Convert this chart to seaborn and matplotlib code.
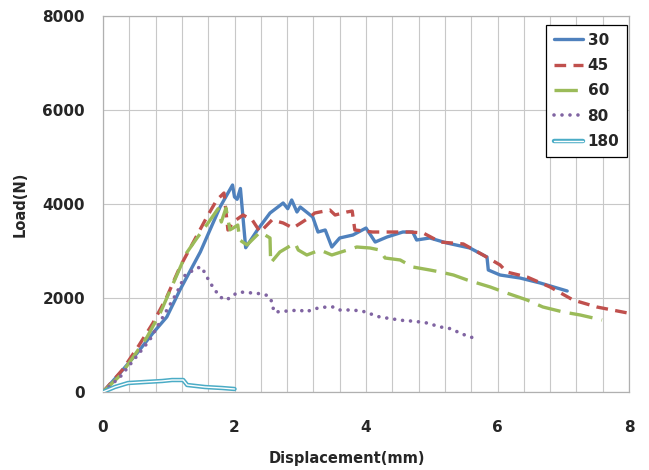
import numpy as np
import pandas as pd
import matplotlib
matplotlib.use("Agg")
import matplotlib.pyplot as plt
import matplotlib.patheffects as pe
from matplotlib.ticker import MultipleLocator
import seaborn as sns

# Load-displacement curves
x30 = [0, 0.26, 0.52, 0.76, 0.97, 1.17, 1.48, 1.78, 1.97, 2.0, 2.04, 2.09, 2.17, 2.35, 2.54,
       2.74, 2.81, 2.87, 2.95, 3.0, 3.19, 3.27, 3.38, 3.48, 3.6, 3.8, 4.0, 4.14, 4.32, 4.56,
       4.71, 4.77, 4.97, 5.23, 5.58, 5.84, 5.86, 6.04, 6.34, 6.65, 7.06]
y30 = [0, 404, 830, 1255, 1596, 2170, 2979, 3936, 4404, 4150, 4100, 4330, 3070, 3450, 3808,
       4021, 3900, 4085, 3830, 3936, 3723, 3404, 3447, 3085, 3277, 3340, 3489, 3191, 3298, 3404,
       3404, 3234, 3277, 3170, 3064, 2872, 2596, 2489, 2426, 2319, 2149]

x45 = [0, 0.3, 0.55, 0.76, 0.97, 1.17, 1.58, 1.73, 1.84, 1.9, 1.98, 2.13, 2.27, 2.39, 2.57,
       2.74, 2.89, 3.15, 3.22, 3.45, 3.53, 3.71, 3.79, 3.83, 4.1, 4.47, 4.67, 4.87, 5.13, 5.48,
       5.78, 6.04, 6.14, 6.45, 6.8, 7.15, 7.51, 7.98]
y45 = [0, 480, 1000, 1468, 2021, 2660, 3723, 4085, 4234, 3447, 3617, 3766, 3660, 3404, 3660,
       3596, 3489, 3723, 3808, 3872, 3766, 3830, 3850, 3447, 3404, 3404, 3404, 3383, 3191, 3150,
       2915, 2702, 2553, 2447, 2234, 1957, 1809, 1681]

x60 = [0, 0.26, 0.46, 0.67, 0.87, 1.27, 1.43, 1.6, 1.75, 1.8, 1.87, 1.93, 1.98, 2.05, 2.08,
       2.19, 2.39, 2.54, 2.55, 2.69, 2.92, 2.97, 3.1, 3.3, 3.48, 3.86, 4.06, 4.21, 4.29, 4.52,
       4.71, 4.97, 5.13, 5.33, 5.54, 5.89, 6.14, 6.45, 6.69, 7.0, 7.26, 7.59]
y60 = [0, 350, 745, 1170, 1681, 2957, 3277, 3600, 3900, 3617, 3915, 3450, 3489, 3553, 3234,
       3128, 3404, 3277, 2745, 2979, 3170, 3021, 2915, 3021, 2915, 3085, 3064, 3021, 2851, 2809,
       2660, 2596, 2553, 2489, 2383, 2234, 2106, 1957, 1809, 1702, 1638, 1532]

x80 = [0, 0.26, 0.71, 1.12, 1.25, 1.43, 1.5, 1.58, 1.67, 1.78, 1.88, 1.98, 2.08, 2.28, 2.43,
       2.52, 2.57, 2.6, 2.8, 3.0, 3.07, 3.27, 3.4, 3.5, 3.6, 3.8, 4.01, 4.11, 4.21, 4.41,
       4.62, 4.71, 4.93, 5.13, 5.25, 5.33, 5.43, 5.54, 5.64]
y80 = [0, 319, 1106, 2106, 2489, 2638, 2660, 2447, 2234, 2021, 1957, 2064, 2128, 2106, 2085,
       2043, 1915, 1700, 1723, 1745, 1700, 1787, 1809, 1809, 1745, 1745, 1702, 1638, 1596, 1553,
       1511, 1511, 1468, 1383, 1362, 1319, 1255, 1191, 1149]

x180 = [0, 0.18, 0.38, 0.64, 0.9, 1.05, 1.22, 1.28, 1.55, 1.81, 2.0]
y180 = [0, 106, 191, 213, 234, 255, 255, 149, 106, 85, 64]

labels = ["30", "45", "60", "80", "180"]
colors = ["#4F81BD", "#C0504D", "#9BBB59", "#8064A2", "#4BACC6"]

sns.set_style("white")
plt.rcParams["font.family"] = ["DejaVu Sans"]

fig = plt.figure(figsize=(6.49, 4.70), dpi=100)
ax = fig.add_axes([103 / 649, 1 - 392 / 470, 526 / 649, 376 / 470])

series = [(x30, y30), (x45, y45), (x60, y60), (x80, y80), (x180, y180)]
for (xs, ys), lab, col in zip(series, labels, colors):
    df = pd.DataFrame({"disp": xs, "load": ys})
    sns.lineplot(data=df, x="disp", y="load", sort=False, estimator=None,
                 color=col, label=lab, ax=ax, lw=2.4, zorder=3)

lines = ax.lines
lines[0].set_linestyle("-")
lines[1].set_dashes([3.5, 2.2])
lines[2].set_dashes([7, 2.8])
lines[3].set_linestyle((0, (0.01, 2.2)))
lines[3].set_dash_capstyle("round")
lines[3].set_linewidth(2.6)
lines[4].set_color("white")
lines[4].set_linewidth(1.0)
lines[4].set_path_effects([pe.Stroke(linewidth=3.2, foreground=colors[4]), pe.Normal()])

ax.set_xlim(0, 8)
ax.set_ylim(0, 8000)
ax.set_xticks([0, 2, 4, 6, 8])
ax.set_yticks([0, 2000, 4000, 6000, 8000])
ax.xaxis.set_minor_locator(MultipleLocator(0.4))
ax.grid(True, which="both", axis="x", color="#c8c8c8", lw=0.8)
ax.grid(True, which="major", axis="y", color="#c8c8c8", lw=0.8)
ax.set_axisbelow(True)
for s in ax.spines.values():
    s.set_color("#b0b0b0")
    s.set_linewidth(0.9)

ax.tick_params(axis="both", which="both", length=0)
ax.tick_params(axis="x", pad=20, labelsize=11)
ax.tick_params(axis="y", pad=13, labelsize=11)
for t in ax.get_xticklabels() + ax.get_yticklabels():
    t.set_fontweight("bold")

ax.set_xlabel("Displacement(mm)", fontsize=10.5, fontweight="bold")
ax.set_ylabel("Load(N)", fontsize=10.5, fontweight="bold")
ax.xaxis.set_label_coords(0.464, -0.157)
ax.yaxis.set_label_coords(-0.144, 0.5)

leg = ax.legend(loc="upper right", bbox_to_anchor=(0.996, 0.976), borderaxespad=0,
                frameon=True, fancybox=False, edgecolor="black", framealpha=1,
                prop={"weight": "bold", "size": 11}, handlelength=1.9,
                labelspacing=0.68, borderpad=0.5, handletextpad=0.3)
leg.get_frame().set_linewidth(0.9)

fig.savefig("out.png", dpi=100)
